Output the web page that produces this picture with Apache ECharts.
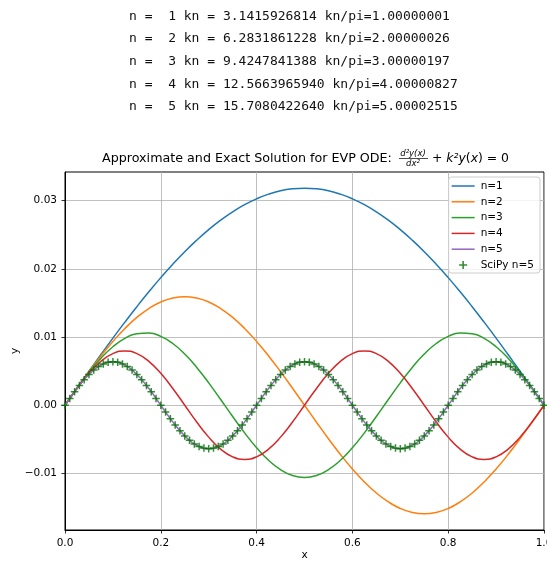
<!DOCTYPE html>
<html>
<head>
<meta charset="utf-8">
<script src="https://cdn.jsdelivr.net/npm/echarts@6/dist/echarts.min.js"></script>
<style>
html,body{margin:0;padding:0;background:#fff;}
#chart{width:547px;height:563px;}
</style>
</head>
<body>
<div id="chart"></div>
<script>
// ---- data ----
const headerLines = [
  "n =  1 kn = 3.1415926814 kn/pi=1.00000001",
  "n =  2 kn = 6.2831861228 kn/pi=2.00000026",
  "n =  3 kn = 9.4247841388 kn/pi=3.00000197",
  "n =  4 kn = 12.5663965940 kn/pi=4.00000827",
  "n =  5 kn = 15.7080422640 kn/pi=5.00002515"
];
const seriesNames = ["n=1", "n=2", "n=3", "n=4", "n=5"];
const xTicks = [0, 0.2, 0.4, 0.6, 0.8, 1.0];
const yTicks = [-0.01, 0, 0.01, 0.02, 0.03];

const xLine = [0,0.025,0.05,0.075,0.1,0.125,0.15,0.175,0.2,0.225,0.25,0.275,0.3,0.325,0.35,0.375,0.4,0.425,0.45,0.475,0.5,
  0.525,0.55,0.575,0.6,0.625,0.65,0.675,0.7,0.725,0.75,0.775,0.8,0.825,0.85,0.875,0.9,0.925,0.95,0.975,1];

const yN1 = [0,0.00250,0.00498,0.00743,0.00984,0.01218,0.01445,0.01663,0.01871,0.02067,0.02251,0.02420,0.02575,0.02714,0.02836,0.02941,0.03027,0.03095,0.03144,0.03173,0.03183,
  0.03173,0.03144,0.03095,0.03027,0.02941,0.02836,0.02714,0.02575,0.02420,0.02251,0.02067,0.01871,0.01663,0.01445,0.01218,0.00984,0.00743,0.00498,0.00250,0];
const yN2 = [0,0.00249,0.00492,0.00723,0.00935,0.01125,0.01288,0.01418,0.01514,0.01572,0.01592,
  0.01572,0.01514,0.01418,0.01288,0.01125,0.00935,0.00723,0.00492,0.00249,0,
  -0.00249,-0.00492,-0.00723,-0.00935,-0.01125,-0.01288,-0.01418,-0.01514,-0.01572,-0.01592,
  -0.01572,-0.01514,-0.01418,-0.01288,-0.01125,-0.00935,-0.00723,-0.00492,-0.00249,0];
const yN3 = [0,0.00248,0.00482,0.00689,0.00858,0.00980,0.01048,0.01058,0.01009,0.00905,0.00750,0.00554,0.00328,0.00083,-0.00166,-0.00406,-0.00624,-0.00807,-0.00945,-0.01032,-0.01061,
  -0.01032,-0.00945,-0.00807,-0.00624,-0.00406,-0.00166,0.00083,0.00328,0.00554,0.00750,0.00905,0.01009,0.01058,0.01048,0.00980,0.00858,0.00689,0.00482,0.00248,0];
const yN4 = [0,0.00246,0.00468,0.00644,0.00757,0.00796,0.00757,0.00644,0.00468,0.00246,0,
  -0.00246,-0.00468,-0.00644,-0.00757,-0.00796,-0.00757,-0.00644,-0.00468,-0.00246,0,
  0.00246,0.00468,0.00644,0.00757,0.00796,0.00757,0.00644,0.00468,0.00246,0,
  -0.00246,-0.00468,-0.00644,-0.00757,-0.00796,-0.00757,-0.00644,-0.00468,-0.00246,0];
const yN5 = [0,0.00244,0.00450,0.00588,0.00637,0.00588,0.00450,0.00244,0,-0.00244,-0.00450,-0.00588,-0.00637,-0.00588,-0.00450,-0.00244,
  0,0.00244,0.00450,0.00588,0.00637,0.00588,0.00450,0.00244,0,-0.00244,-0.00450,-0.00588,-0.00637,-0.00588,-0.00450,-0.00244,
  0,0.00244,0.00450,0.00588,0.00637,0.00588,0.00450,0.00244,0];

const xSci = [0,0.01,0.02,0.03,0.04,0.05,0.06,0.07,0.08,0.09,0.1,0.11,0.12,0.13,0.14,0.15,0.16,0.17,0.18,0.19,0.2,
  0.21,0.22,0.23,0.24,0.25,0.26,0.27,0.28,0.29,0.3,0.31,0.32,0.33,0.34,0.35,0.36,0.37,0.38,0.39,0.4,
  0.41,0.42,0.43,0.44,0.45,0.46,0.47,0.48,0.49,0.5,0.51,0.52,0.53,0.54,0.55,0.56,0.57,0.58,0.59,0.6,
  0.61,0.62,0.63,0.64,0.65,0.66,0.67,0.68,0.69,0.7,0.71,0.72,0.73,0.74,0.75,0.76,0.77,0.78,0.79,0.8,
  0.81,0.82,0.83,0.84,0.85,0.86,0.87,0.88,0.89,0.9,0.91,0.92,0.93,0.94,0.95,0.96,0.97,0.98,0.99,1];
const ySci = [0,
  0.00100,0.00197,0.00289,0.00374,0.00450,0.00515,0.00567,0.00606,0.00629,0.00637,0.00629,0.00606,0.00567,0.00515,0.00450,0.00374,0.00289,0.00197,0.00100,
  0,
  -0.00100,-0.00197,-0.00289,-0.00374,-0.00450,-0.00515,-0.00567,-0.00606,-0.00629,-0.00637,-0.00629,-0.00606,-0.00567,-0.00515,-0.00450,-0.00374,-0.00289,-0.00197,-0.00100,
  0,
  0.00100,0.00197,0.00289,0.00374,0.00450,0.00515,0.00567,0.00606,0.00629,0.00637,0.00629,0.00606,0.00567,0.00515,0.00450,0.00374,0.00289,0.00197,0.00100,
  0,
  -0.00100,-0.00197,-0.00289,-0.00374,-0.00450,-0.00515,-0.00567,-0.00606,-0.00629,-0.00637,-0.00629,-0.00606,-0.00567,-0.00515,-0.00450,-0.00374,-0.00289,-0.00197,-0.00100,
  0,
  0.00100,0.00197,0.00289,0.00374,0.00450,0.00515,0.00567,0.00606,0.00629,0.00637,0.00629,0.00606,0.00567,0.00515,0.00450,0.00374,0.00289,0.00197,0.00100,
  0];

// ---- chart ----
const colors = ['#1f77b4', '#ff7f0e', '#2ca02c', '#d62728', '#9467bd'];
const lineYs = [yN1, yN2, yN3, yN4, yN5];
const plusPath = 'path://M4,0H6V4H10V6H6V10H4V6H0V4H4Z';
const lineIcon = 'path://M0,0H46V3H0Z';
const FONT = 'DejaVu Sans';
const SMALL = 10.5;

const series = lineYs.map((ys, i) => ({
  name: seriesNames[i],
  type: 'line',
  data: xLine.map((x, j) => [x, ys[j]]),
  showSymbol: false,
  symbol: 'none',
  smooth: true,
  lineStyle: { color: colors[i], width: 1.5 },
  itemStyle: { color: colors[i] },
  z: 2 + i
}));
series.push({
  name: 'SciPy n=5',
  type: 'scatter',
  data: xSci.map((x, j) => [x, ySci[j]]),
  symbol: plusPath,
  symbolSize: 7.5,
  itemStyle: { color: '#007000' },
  z: 10
});

const graphics = headerLines.map((t, i) => ({
  type: 'text',
  left: 129,
  top: 10 + i * 22.6,
  style: { text: t, font: '13px "DejaVu Sans Mono"', fill: '#111' }
}));
// title
graphics.push({
  type: 'text', left: 102, top: 152.5,
  style: { text: 'Approximate and Exact Solution for EVP ODE:', font: '12.7px "DejaVu Sans"', fill: '#000' }
});
graphics.push({
  type: 'text', x: 413, y: 153.5,
  style: { text: 'd²y(x)', font: 'italic 8.5px "DejaVu Sans"', fill: '#000', align: 'center', verticalAlign: 'middle' }
});
graphics.push({
  type: 'line', shape: { x1: 399, y1: 158.5, x2: 428, y2: 158.5 },
  style: { stroke: '#000', lineWidth: 0.7 }
});
graphics.push({
  type: 'text', x: 413, y: 164,
  style: { text: 'dx²', font: 'italic 8.5px "DejaVu Sans"', fill: '#000', align: 'center', verticalAlign: 'middle' }
});
graphics.push({
  type: 'text', left: 432, top: 152.5,
  style: {
    text: '{n|+ }{i|k²y}{n|(}{i|x}{n|) = 0}',
    rich: {
      n: { fontFamily: FONT, fontSize: 12.4, fill: '#000' },
      i: { fontFamily: FONT, fontSize: 12.4, fontStyle: 'italic', fill: '#000' }
    }
  }
});

const option = {
  animation: false,
  backgroundColor: '#fff',
  textStyle: { fontFamily: FONT },
  grid: {
    left: 65, right: 3, top: 172, bottom: 33,
    show: true, borderColor: '#000', borderWidth: 1, backgroundColor: 'transparent',
    containLabel: false,
    outerBoundsMode: 'none'
  },
  legend: {
    orient: 'vertical',
    right: 7, top: 177,
    padding: [3, 6, 2, 3],
    backgroundColor: 'rgba(255,255,255,0.8)',
    borderColor: '#cccccc', borderWidth: 1, borderRadius: 3,
    itemWidth: 23, itemHeight: 8, itemGap: 3.8,
    symbolKeepAspect: true,
    textStyle: { fontFamily: FONT, fontSize: SMALL, lineHeight: 12, color: '#000', padding: [0, 0, 0, 1] },
    data: seriesNames.map(n => ({ name: n, icon: lineIcon })).concat([{ name: 'SciPy n=5', icon: plusPath }])
  },
  xAxis: {
    type: 'value', min: 0, max: 1, interval: 0.2,
    name: 'x', nameLocation: 'middle', nameGap: 20, nameMoveOverlap: false,
    nameTextStyle: { fontFamily: FONT, fontSize: SMALL, color: '#000' },
    axisLine: { show: true, onZero: false, lineStyle: { color: '#000', width: 1 } },
    axisTick: { show: true, inside: false, length: 3.5, lineStyle: { color: '#000', width: 0.8 } },
    axisLabel: { fontFamily: FONT, fontSize: SMALL, color: '#000', margin: 8,
      formatter: v => v.toFixed(1), showMinLabel: true, showMaxLabel: true, hideOverlap: false },
    splitLine: { show: true, lineStyle: { color: '#b0b0b0', width: 0.8 } }
  },
  yAxis: {
    type: 'value', min: -0.0183, max: 0.0342,
    name: 'y', nameLocation: 'middle', nameGap: 44, nameRotate: 90, nameMoveOverlap: false,
    nameTextStyle: { fontFamily: FONT, fontSize: SMALL, color: '#000' },
    axisLine: { show: true, onZero: false, lineStyle: { color: '#000', width: 1 } },
    axisTick: { show: true, inside: false, length: 3.5, customValues: yTicks, lineStyle: { color: '#000', width: 0.8 } },
    axisLabel: { fontFamily: FONT, fontSize: SMALL, color: '#000', margin: 8, customValues: yTicks,
      formatter: v => v.toFixed(2).replace('-', '\u2212') },
    splitLine: { show: true, lineStyle: { color: '#b0b0b0', width: 0.8 } }
  },
  graphic: graphics,
  series: series
};

const chart = echarts.init(document.getElementById('chart'), null, { renderer: 'canvas' });
chart.setOption(option);
</script>
</body>
</html>
